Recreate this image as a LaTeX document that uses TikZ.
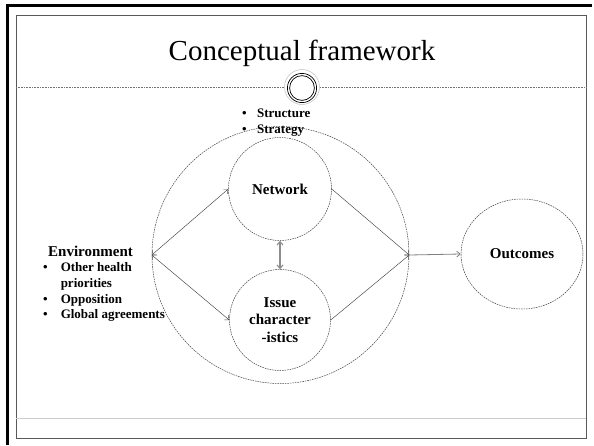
\documentclass[tikz,border=0pt]{standalone}
\usepackage{fontspec}
\setmainfont{Liberation Serif}
\usetikzlibrary{arrows.meta,shapes.geometric}

\begin{document}
\begin{tikzpicture}[x=1pt,y=-1pt,
    >={Straight Barb[length=3.5pt,width=6pt]},
    ring/.style={draw=black!75,dash pattern=on 1.6pt off 0.9pt,line width=0.5pt,inner sep=0pt},
    lbl/.style={font=\fontsize{15}{17.5}\selectfont\bfseries,align=center},
    link/.style={draw=black!75,line width=0.45pt}]
                \useasboundingbox (0,0) rectangle (594,445);
                % slide frame
                \draw[line width=2.5pt] (7.5,445) -- (7.5,5.5) -- (592,5.5);
                \draw[black!65,line width=0.8pt] (16,15) rectangle (586,438);
                \draw[black!20,line width=0.6pt] (16,418) -- (586,418);
                \draw[black!55,line width=0.5pt,dash pattern=on 1pt off 0.6pt] (16,87) -- (586,87);
                % title and emblem
                \node[anchor=base,font=\fontsize{29}{34}\selectfont] (title) at (302,60) {Conceptual framework};
                \fill[white,draw=black!25,line width=0.5pt] (302,87) circle (17.5);
                \draw[line width=0.7pt] (302,88) circle (14.6);
                \draw[line width=0.7pt] (302,88) circle (12.4);
                % circles
                \node[ring,circle,minimum size=257pt] (system) at (280.5,255) {};
                \node[ring,circle,minimum size=103pt,lbl] (network) at (280,189) {Network};
                \node[ring,circle,minimum size=101pt,lbl] (issue) at (280,320) {Issue\\character\\-istics};
                \node[ring,ellipse,minimum width=122pt,minimum height=110pt,lbl] (outcomes) at (522,254) {Outcomes};
                % texts
                \node[anchor=north west,inner sep=0pt,font=\fontsize{13}{16}\selectfont\bfseries] (netlist) at (242,106)
                    {\begin{tabular}{@{}l@{\hspace{10.4pt}}l@{}}\textbullet & Structure\\ \textbullet & Strategy\end{tabular}};
                \node[anchor=base west,inner sep=0pt,font=\fontsize{15}{17}\selectfont\bfseries] (env) at (48,256) {Environment};
                \node[anchor=north west,inner sep=0pt,font=\fontsize{13}{15.7}\selectfont\bfseries] (envlist) at (43,260.5)
                    {\begin{tabular}{@{}l@{\hspace{13pt}}l@{}}\textbullet & Other health\\ & priorities\\ \textbullet & Opposition\\ \textbullet & Global agreements\end{tabular}};
                % connectors
                \draw[link,<->] (system.west) -- (network.west);
                \draw[link,<->] (system.west) -- (issue.west);
                \draw[link,->] (network.east) -- (system.east);
                \draw[link,->] (issue.east) -- (system.east);
                \draw[<->,black!45,line width=1.1pt] (network.south) -- (issue.north);
                \draw[->,black!50,line width=0.8pt] (system.east) -- (outcomes.west);
            \end{tikzpicture}
\end{document}
